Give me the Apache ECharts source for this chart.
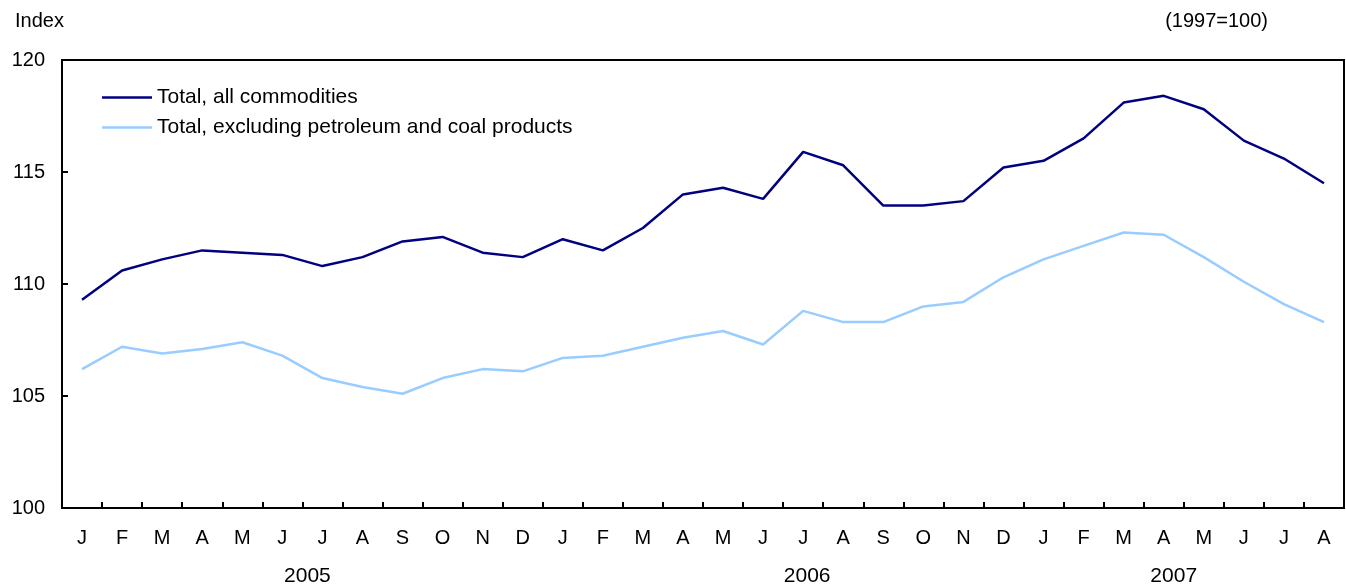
<!DOCTYPE html>
<html>
<head>
<meta charset="utf-8">
<script src="https://cdn.jsdelivr.net/npm/echarts@6/dist/echarts.min.js"></script>
<style>
html,body{margin:0;padding:0;background:#fff;}
#chart{width:1346px;height:584px;}
</style>
</head>
<body>
<div id="chart"></div>
<script>
const months = ['J','F','M','A','M','J','J','A','S','O','N','D',
                'J','F','M','A','M','J','J','A','S','O','N','D',
                'J','F','M','A','M','J','J','A'];
const yearLabels = {6: '2005', 18: '2006', 27: '2007'};
const seriesNames = ['Total, all commodities', 'Total, excluding petroleum and coal products'];
const totalAll = [109.3,110.6,111.1,111.5,111.4,111.3,110.8,111.2,111.9,112.1,111.4,111.2,
                  112.0,111.5,112.5,114.0,114.3,113.8,115.9,115.3,113.5,113.5,113.7,115.2,
                  115.5,116.5,118.1,118.4,117.8,116.4,115.6,114.5];
const totalExPetro = [106.2,107.2,106.9,107.1,107.4,106.8,105.8,105.4,105.1,105.8,106.2,106.1,
                      106.7,106.8,107.2,107.6,107.9,107.3,108.8,108.3,108.3,109.0,109.2,110.3,
                      111.1,111.7,112.3,112.2,111.2,110.1,109.1,108.3];

const chart = echarts.init(document.getElementById('chart'));
const font = 'Liberation Sans, Arial, Helvetica, sans-serif';
chart.setOption({
  animation: false,
  textStyle: {fontFamily: font},
  grid: {left: 62, right: 2, top: 60, bottom: 76, show: true, borderColor: '#000', borderWidth: 2,
         containLabel: false, outerBoundsMode: 'none'},
  graphic: [
    {type: 'text', left: 15, top: 11, style: {text: 'Index', fontSize: 20, fontFamily: font, fill: '#000'}},
    {type: 'text', right: 78, top: 11, style: {text: '(1997=100)', fontSize: 20, fontFamily: font, fill: '#000'}}
  ],
  legend: {
    orient: 'vertical', left: 102, top: 87, padding: 0,
    itemWidth: 50, itemHeight: 2.5, itemGap: 9, icon: 'rect',
    textStyle: {fontSize: 21, fontFamily: font, color: '#000'},
    data: seriesNames
  },
  xAxis: [{
    type: 'category', data: months, boundaryGap: true,
    axisLine: {show: true, lineStyle: {color: '#000', width: 2}},
    axisTick: {show: true, inside: true, interval: 0, alignWithLabel: false, length: 6, lineStyle: {color: '#000', width: 2}},
    axisLabel: {color: '#000', fontSize: 20, margin: 20, interval: 0, fontFamily: font}
  }, {
    type: 'category', data: months, boundaryGap: true, position: 'bottom', offset: 0,
    axisLine: {show: false}, axisTick: {show: false},
    axisLabel: {
      color: '#000', fontSize: 21, margin: 58, interval: 0, fontFamily: font,
      formatter: function (v, i) {
        if (i === 6) return '{l|' + yearLabels[i] + '}';
        if (i === 18) return '{r1|' + yearLabels[i] + '}';
        if (i === 27) return '{r2|' + yearLabels[i] + '}';
        return '';
      },
      rich: {
        l: {fontSize: 21, fontFamily: font, color: '#000', padding: [0, 30, 0, 0]},
        r1: {fontSize: 21, fontFamily: font, color: '#000', padding: [0, 0, 0, 8]},
        r2: {fontSize: 21, fontFamily: font, color: '#000', padding: [0, 0, 0, 20]}
      }
    }
  }],
  yAxis: {
    type: 'value', min: 100, max: 120, interval: 5,
    axisLine: {show: true, lineStyle: {color: '#000', width: 2}},
    axisTick: {show: true, inside: true, length: 6, lineStyle: {color: '#000', width: 2}},
    splitLine: {show: false},
    axisLabel: {color: '#000', fontSize: 20, margin: 17, fontFamily: font}
  },
  series: [
    {name: seriesNames[0], type: 'line', data: totalAll, symbol: 'none',
     lineStyle: {color: '#000080', width: 2.5}, itemStyle: {color: '#000080'}},
    {name: seriesNames[1], type: 'line', data: totalExPetro, symbol: 'none',
     lineStyle: {color: '#99ccff', width: 2.5}, itemStyle: {color: '#99ccff'}}
  ]
});
</script>
</body>
</html>
